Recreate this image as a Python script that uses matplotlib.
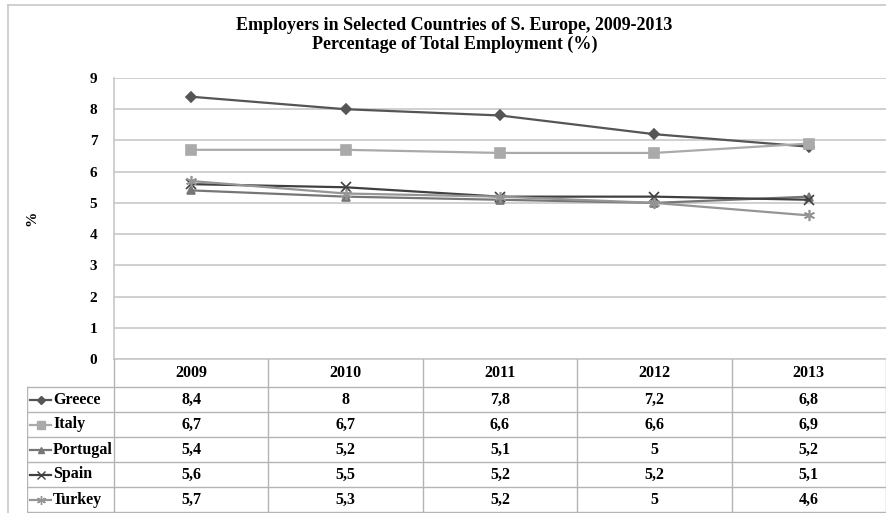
import matplotlib
matplotlib.use('Agg')
import matplotlib.pyplot as plt
from matplotlib.lines import Line2D

plt.rcParams['font.family'] = ['Liberation Serif', 'DejaVu Serif']
plt.rcParams['font.weight'] = 'bold'

years = ['2009', '2010', '2011', '2012', '2013']
countries = ['Greece', 'Italy', 'Portugal', 'Spain', 'Turkey']
greece = [8.4, 8.0, 7.8, 7.2, 6.8]
italy = [6.7, 6.7, 6.6, 6.6, 6.9]
portugal = [5.4, 5.2, 5.1, 5.0, 5.2]
spain = [5.6, 5.5, 5.2, 5.2, 5.1]
turkey = [5.7, 5.3, 5.2, 5.0, 4.6]
series = [greece, italy, portugal, spain, turkey]

colors = ['#555555', '#aaaaaa', '#767676', '#404040', '#959595']
markers = ['D', 's', '^', 'x', (6, 2, 0)]
msizes = [5, 7, 6, 7, 8]

W, H = 886, 513
fig = plt.figure(figsize=(W / 100, H / 100), dpi=100)

# outer chart border (cropped on right/bottom)
fig.add_artist(Line2D([7.5 / W, 7.5 / W], [0, 1 - 5 / H], color='#c8c8c8', lw=1.2))
fig.add_artist(Line2D([7.5 / W, 1], [1 - 5 / H, 1 - 5 / H], color='#c8c8c8', lw=1.2))

left, right, top, bot = 114, 886, 78, 359
ax = fig.add_axes([left / W, 1 - bot / H, (right - left) / W, (bot - top) / H])
x = list(range(len(years)))
for vals, c, m, ms in zip(series, colors, markers, msizes):
    ax.plot(x, vals, color=c, lw=1.6, marker=m, ms=ms, mec=c, mfc=c, mew=1.2, zorder=3)
ax.set_xlim(-0.5, len(years) - 0.5)
ax.set_ylim(0, 9)
ax.set_yticks(range(0, 10))
ax.yaxis.grid(True, color='#c8c8c8', lw=1.2)
ax.set_axisbelow(True)
ax.set_xticks([])
ax.tick_params(axis='y', length=0, pad=12, labelsize=11)
for s in ['top', 'right']:
    ax.spines[s].set_visible(False)
ax.spines['left'].set_color('#c8c8c8')
ax.spines['bottom'].set_color('#c8c8c8')
ax.spines['left'].set_linewidth(1.2)
ax.spines['bottom'].set_linewidth(1.2)
fig.text(32 / W, 1 - 218 / H, '%', rotation=90, ha='center', va='center', fontsize=11)

fig.text(0.513, 1 - 25 / H, 'Employers in Selected Countries of S. Europe, 2009-2013',
         ha='center', va='center', fontsize=13)
fig.text(0.513, 1 - 44 / H, 'Percentage of Total Employment (%)',
         ha='center', va='center', fontsize=13)

# data table below the plot
tleft = 27
unit = (right - left) / len(years)
x0 = -0.5 - (left - tleft) / unit
tab = fig.add_axes([tleft / W, 0, (right - tleft) / W, (H - bot) / H])
tab.set_xlim(x0, len(years) - 0.5)
tab.set_ylim(H - bot, 0)
tab.axis('off')
gc = '#b4b4b4'
hdr = 28
rh = 25
fs = 11.5
for i, y in enumerate(years):
    tab.text(i, hdr / 2, y, ha='center', va='center', fontsize=fs)
for k in range(len(years) + 1):
    tab.plot([k - 0.5, k - 0.5], [0, hdr + rh * len(countries)], color=gc, lw=1.0)
tab.plot([x0 + 0.002, x0 + 0.002], [hdr, hdr + rh * len(countries)], color=gc, lw=1.0)
for r in range(len(countries) + 1):
    yy = hdr + rh * r
    tab.plot([x0, len(years) - 0.5], [yy, yy], color=gc, lw=1.0)
for r, (name, vals, c, m, ms) in enumerate(zip(countries, series, colors, markers, msizes)):
    yc = hdr + rh * r + rh / 2
    seg0 = x0 + 3 / unit
    seg1 = x0 + 24 / unit
    tab.plot([seg0, seg1], [yc, yc], color=c, lw=1.6)
    tab.plot([(seg0 + seg1) / 2], [yc], color=c, marker=m, ms=ms * 0.8, mec=c, mfc=c, mew=1.0)
    tab.text(x0 + 26 / unit, yc, name, ha='left', va='center', fontsize=fs)
    for i, v in enumerate(vals):
        s = ('%g' % v).replace('.', ',')
        tab.text(i, yc, s, ha='center', va='center', fontsize=fs)

fig.savefig('out.png', dpi=100)
